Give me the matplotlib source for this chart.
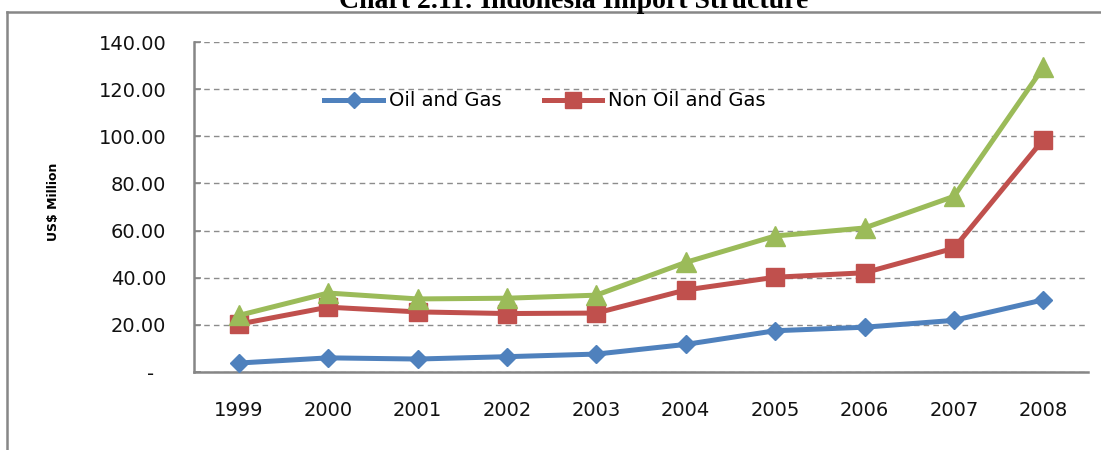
import matplotlib
matplotlib.use("Agg")
import matplotlib.pyplot as plt
from matplotlib.lines import Line2D

years = ["1999", "2000", "2001", "2002", "2003", "2004", "2005", "2006", "2007", "2008"]
oil_gas = [3.8, 6.0, 5.5, 6.5, 7.6, 11.7, 17.5, 19.0, 21.9, 30.6]
non_oil_gas = [20.3, 27.5, 25.5, 24.8, 25.0, 34.8, 40.2, 42.1, 52.5, 98.6]
total = [24.0, 33.5, 31.0, 31.3, 32.6, 46.5, 57.7, 61.1, 74.5, 129.2]
y_ticks = [0, 20, 40, 60, 80, 100, 120, 140]

plt.rcParams['font.family'] = ['DejaVu Sans']

W, H = 1101, 450
fig = plt.figure(figsize=(W / 100, H / 100), dpi=100)
ax = fig.add_axes([194 / W, 1 - 372 / H, (1088 - 194) / W, (372 - 42) / H])

x = list(range(len(years)))
ax.plot(x, oil_gas, color='#4F81BD', lw=3.6, marker='D', ms=9.5, label='Oil and Gas', zorder=3)
ax.plot(x, non_oil_gas, color='#C0504D', lw=3.6, marker='s', ms=13, label='Non Oil and Gas', zorder=3)
ax.plot(x, total, color='#9BBB59', lw=3.6, marker='^', ms=14, label='_nolegend_', zorder=3)

ax.set_xlim(-0.5, len(years) - 0.5)
ax.set_ylim(0, 140)
ax.set_xticks(x)
ax.set_xticklabels(years)
ax.set_yticks(y_ticks)
ax.set_yticklabels(["-  " if v == 0 else f"{v:.2f}" for v in y_ticks])
ax.tick_params(axis='x', length=0, pad=21, labelsize=14, labelcolor='#111111')
ax.tick_params(axis='y', direction='in', length=5, width=1.2, color='#868686', pad=20,
               labelsize=14, labelcolor='#111111')

for s in ['top', 'right']:
    ax.spines[s].set_visible(False)
for s in ['left', 'bottom']:
    ax.spines[s].set_color('#868686')
    ax.spines[s].set_linewidth(1.8)

ax.yaxis.grid(True, linestyle=(0, (4, 3)), color='#8c8c8c', lw=1.0)
ax.set_axisbelow(True)

leg = fig.legend(loc='center', bbox_to_anchor=(545 / W, 1 - 101 / H), ncol=2, frameon=False,
                 fontsize=14, handlelength=3.0, handletextpad=0.3, columnspacing=2.2,
                 markerscale=0.85)

fig.text(53 / W, 1 - 202 / H, "US$ Million", rotation=90, ha='center', va='center',
         fontsize=9, fontweight='bold')

fig.text(574 / W, 1 - 8 / H, "Chart 2.11: Indonesia Import Structure", ha='center', va='baseline',
         fontsize=20, fontweight='bold', family=['Liberation Serif'])

fig.add_artist(Line2D([7 / W, 1], [1 - 11.5 / H, 1 - 11.5 / H], transform=fig.transFigure,
                      color='#878787', lw=1.8))
fig.add_artist(Line2D([7 / W, 7 / W], [0, 1 - 11.5 / H], transform=fig.transFigure,
                      color='#878787', lw=1.8))

fig.savefig("out.png", dpi=100)
